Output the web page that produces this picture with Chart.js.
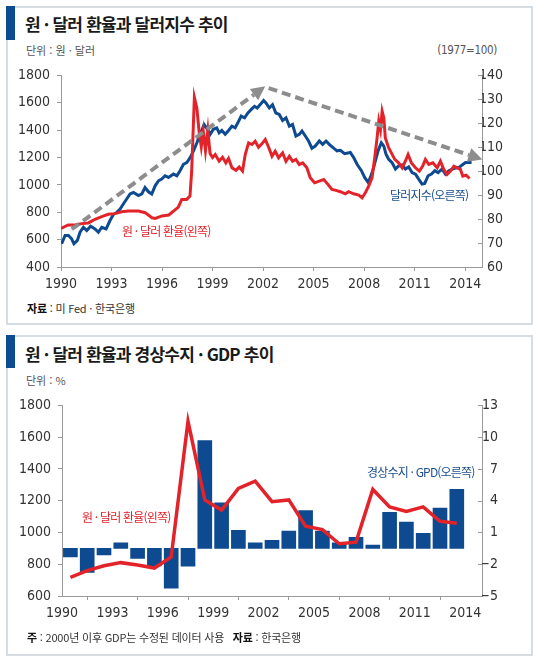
<!DOCTYPE html>
<html lang="ko">
<head>
<meta charset="utf-8">
<script src="https://cdn.jsdelivr.net/npm/chart.js@4.4.1/dist/chart.umd.min.js"></script>
<style>
  body { margin:0; width:540px; height:662px; background:#fff; position:relative; overflow:hidden;
         font-family:'Noto Sans CJK KR', sans-serif; }
  .panel { position:absolute; left:6px; width:527px; border:2px solid #d5dde3; box-sizing:border-box; background:#fff; }
  .accent { position:absolute; left:6px; width:9px; background:#0d4c93; }
  .title { position:absolute; left:25px; font-size:17px; font-weight:700; color:#1a1a1a; letter-spacing:-0.8px; line-height:20px; white-space:nowrap; }
  .unit { position:absolute; left:26px; font-size:11px; color:#555; line-height:14px; white-space:nowrap; }
  .num { font-family:'Liberation Sans Narrow','DejaVu Sans Condensed',sans-serif; }
  .note { position:absolute; left:27px; font-size:11px; color:#333; line-height:14px; white-space:nowrap; letter-spacing:-0.2px; }
  .note b { font-weight:700; color:#111; }
  .lbl { position:absolute; font-size:12px; line-height:16px; letter-spacing:-0.8px; white-space:nowrap; }
  canvas { position:absolute; left:0; }
</style>
</head>
<body>
<div class="panel" style="top:6px;height:319px"></div>
<div class="accent" style="top:6px;height:34px"></div>
<div class="title" style="top:14px">원 · 달러 환율과 달러지수 추이</div>
<div class="unit" style="top:43px">단위 : 원 · 달러</div>
<div class="unit num" style="top:43px;left:auto;right:43px;font-size:11.5px;letter-spacing:-0.3px">(1977=100)</div>
<div style="position:absolute;left:0;top:60px;width:540px;height:240px"><canvas id="rateChart"></canvas></div>
<div class="lbl" style="left:122px;top:223px;color:#e3232a">원 · 달러 환율(왼쪽)</div>
<div class="lbl" style="left:390px;top:187px;color:#1b4f8f">달러지수(오른쪽)</div>
<div class="note" style="top:301px"><b>자료</b> : 미 Fed · 한국은행</div>

<div class="panel" style="top:335px;height:321px"></div>
<div class="accent" style="top:335px;height:33px"></div>
<div class="title" style="top:344px">원 · 달러 환율과 경상수지 · GDP 추이</div>
<div class="unit" style="top:373px">단위 : %</div>
<div style="position:absolute;left:0;top:390px;width:540px;height:240px"><canvas id="balanceChart"></canvas></div>
<div class="lbl" style="left:82px;top:509px;color:#e3232a">원 · 달러 환율(왼쪽)</div>
<div class="lbl" style="left:367px;top:464px;color:#1b4f8f">경상수지 · GPD(오른쪽)</div>
<div class="note" style="top:630px"><b>주</b> : 2000년 이후 GDP는 수정된 데이터 사용 &nbsp;&nbsp;<b>자료</b> : 한국은행</div>

<script>
// 공통 x축 눈금
const yearTicks = [1990, 1993, 1996, 1999, 2002, 2005, 2008, 2011, 2014];

// 위 차트: 원/달러 환율 (월별 근사)
const krwTimes = [1990.0, 1990.43, 1990.83, 1991.23, 1991.63, 1992.02, 1992.42, 1992.81, 1993.2, 1993.6,
  1994.0, 1994.6, 1995.0, 1995.4, 1995.6, 1995.99, 1996.4, 1996.68, 1996.97, 1997.17,
  1997.46, 1997.66, 1997.76, 1997.92, 1998.07, 1998.2, 1998.33, 1998.45, 1998.58, 1998.72,
  1998.85, 1999.0, 1999.16, 1999.39, 1999.59, 1999.79, 1999.95, 2000.15, 2000.39, 2000.58,
  2000.78, 2000.94, 2001.14, 2001.34, 2001.53, 2001.73, 2001.93, 2002.13, 2002.33, 2002.53,
  2002.72, 2002.92, 2003.16, 2003.36, 2003.56, 2003.75, 2003.95, 2004.15, 2004.35, 2004.6,
  2004.8, 2005.06, 2005.34, 2005.6, 2005.85, 2006.09, 2006.33, 2006.59, 2006.88, 2007.08,
  2007.38, 2007.68, 2007.88, 2008.07, 2008.27, 2008.47, 2008.63, 2008.77, 2008.87, 2008.97,
  2009.07, 2009.17, 2009.26, 2009.46, 2009.62, 2009.82, 2010.05, 2010.26, 2010.45, 2010.61,
  2010.81, 2011.05, 2011.28, 2011.48, 2011.64, 2011.84, 2012.08, 2012.34, 2012.53, 2012.73,
  2012.93, 2013.13, 2013.33, 2013.53, 2013.72, 2013.86, 2014.06, 2014.26];
const krwRate = [682, 707, 707, 717, 722, 749, 768, 785, 790, 804,
  809, 809, 797, 760, 755, 773, 780, 809, 838, 894,
  894, 918, 1100, 1640, 1560, 1390, 1280, 1390, 1250, 1400,
  1230, 1200, 1222, 1173, 1202, 1161, 1193, 1125, 1106, 1130,
  1101, 1222, 1307, 1295, 1319, 1275, 1300, 1332, 1275, 1210,
  1246, 1198, 1234, 1173, 1210, 1173, 1186, 1149, 1161, 1125,
  1052, 1015, 1028, 1040, 1004, 967, 960, 950, 935, 950,
  935, 926, 906, 942, 991, 1052, 1198, 1343, 1465, 1404,
  1538, 1489, 1343, 1270, 1234, 1186, 1161, 1125, 1173, 1222,
  1161, 1125, 1101, 1137, 1186, 1149, 1161, 1125, 1173, 1113,
  1077, 1101, 1137, 1125, 1113, 1064, 1071, 1047];

// 위 차트: 달러지수 (1977=100)
const dxyTimes = [1990.04, 1990.24, 1990.44, 1990.63, 1990.77, 1990.97, 1991.13, 1991.33, 1991.53, 1991.76,
  1992.02, 1992.22, 1992.42, 1992.68, 1992.91, 1993.11, 1993.31, 1993.51, 1993.7, 1993.9,
  1994.1, 1994.3, 1994.6, 1994.8, 1994.99, 1995.19, 1995.39, 1995.59, 1995.79, 1995.98,
  1996.18, 1996.38, 1996.68, 1996.88, 1997.07, 1997.27, 1997.47, 1997.67, 1997.87, 1998.07,
  1998.26, 1998.5, 1998.7, 1998.86, 1999.05, 1999.25, 1999.39, 1999.55, 1999.75, 1999.95,
  2000.15, 2000.34, 2000.5, 2000.7, 2000.9, 2001.1, 2001.3, 2001.49, 2001.65, 2001.83,
  2002.03, 2002.17, 2002.37, 2002.56, 2002.76, 2002.96, 2003.16, 2003.36, 2003.56, 2003.75,
  2003.95, 2004.15, 2004.31, 2004.51, 2004.7, 2004.9, 2005.1, 2005.34, 2005.54, 2005.74,
  2005.93, 2006.19, 2006.39, 2006.59, 2006.84, 2007.18, 2007.38, 2007.58, 2007.84, 2008.03,
  2008.24, 2008.37, 2008.51, 2008.67, 2008.83, 2009.02, 2009.17, 2009.3, 2009.46, 2009.66,
  2009.86, 2010.05, 2010.26, 2010.45, 2010.65, 2010.85, 2011.05, 2011.24, 2011.44, 2011.6,
  2011.8, 2012.0, 2012.2, 2012.39, 2012.63, 2012.83, 2013.03, 2013.23, 2013.42, 2013.62,
  2013.82, 2014.02, 2014.22, 2014.38];
const dxyIndex = [69.7, 73.2, 73.2, 71.8, 69.7, 71.1, 74.5, 76.6, 75.2, 77.0,
  75.9, 74.5, 76.6, 75.9, 79.4, 81.9, 82.8, 84.2, 86.3, 88.4,
  90.5, 91.1, 89.8, 90.5, 93.2, 91.4, 90.5, 93.9, 96.0, 96.7,
  98.1, 97.4, 98.8, 98.1, 100.2, 102.9, 103.6, 105.7, 108.5, 111.9,
  115.4, 119.5, 117.5, 115.4, 117.5, 118.1, 116.0, 117.0, 115.4, 117.0,
  118.8, 118.1, 120.2, 123.0, 122.3, 124.3, 125.8, 127.1, 126.4, 127.8,
  129.5, 128.5, 126.4, 127.8, 124.3, 123.7, 121.2, 122.3, 118.8, 119.5,
  114.7, 115.4, 116.8, 114.7, 112.6, 109.6, 110.5, 112.6, 111.2, 112.6,
  111.2, 109.6, 108.5, 108.7, 107.3, 107.8, 105.7, 102.9, 100.2, 97.4,
  95.3, 97.4, 100.2, 104.3, 108.5, 111.9, 110.5, 107.1, 105.0, 103.6,
  100.9, 102.2, 102.6, 100.9, 101.8, 99.4, 98.8, 96.7, 94.6, 94.9,
  98.1, 98.8, 100.2, 99.4, 100.9, 98.8, 100.2, 100.9, 101.3, 101.5,
  102.6, 103.6, 103.6, 103.6];

// 추세 화살표 (연도, 원/달러 축 값)
const trendStart = [[1990.64, 676], [2002.33, 1707]];
const trendEnd = [[2002.13, 1720], [2015.02, 1186]];

// 아래 차트: 연말 환율, 경상수지/GDP
const balanceYears = [1990, 1991, 1992, 1993, 1994, 1995, 1996, 1997, 1998, 1999, 2000, 2001,
  2002, 2003, 2004, 2005, 2006, 2007, 2008, 2009, 2010, 2011, 2012, 2013];
const yearEndRate = [718, 760, 790, 810, 795, 776, 846, 1700, 1205, 1141, 1278, 1323,
  1194, 1205, 1039, 1018, 929, 939, 1271, 1161, 1132, 1161, 1070, 1058];
const currentAccount = [-1.31, -2.77, -1.12, 0.03, -1.46, -2.15, -4.26, -2.18, 9.67, 3.8, 1.21, 0.03,
  0.25, 1.12, 3.07, 1.12, 0.03, 0.53, -0.2, 2.89, 1.99, 0.93, 3.3, 5.07];

const RED = '#e3232a';
const BLUE = '#0d4a8f';
const AXIS = '#9a9a9a';
const numFont = { family: "'Liberation Sans Narrow','DejaVu Sans Condensed',sans-serif", size: 14 };

const innerTicks = {
  id: 'innerTicks',
  afterDraw(chart) {
    const s = chart.scales.y2;
    const ctx = chart.ctx;
    ctx.save();
    ctx.strokeStyle = AXIS;
    ctx.lineWidth = 1;
    s.ticks.forEach(t => {
      const y = Math.round(s.getPixelForValue(t.value)) + 0.5;
      ctx.beginPath();
      ctx.moveTo(s.left - 4, y);
      ctx.lineTo(s.left, y);
      ctx.stroke();
    });
    ctx.restore();
  }
};

const trendArrows = {
  id: 'trendArrows',
  afterDatasetsDraw(chart) {
    const { x, y } = chart.scales;
    const ctx = chart.ctx;
    ctx.save();
    ctx.strokeStyle = '#8d8d8d';
    ctx.fillStyle = '#8d8d8d';
    trendStart.forEach((s, i) => {
      const x0 = x.getPixelForValue(s[0]), y0 = y.getPixelForValue(s[1]);
      const x1 = x.getPixelForValue(trendEnd[i][0]), y1 = y.getPixelForValue(trendEnd[i][1]);
      const a = Math.atan2(y1 - y0, x1 - x0);
      const len = 14, half = 7;
      const bx = x1 - len * Math.cos(a), by = y1 - len * Math.sin(a);
      ctx.lineWidth = 4;
      ctx.setLineDash([9, 5]);
      ctx.beginPath();
      ctx.moveTo(x0, y0);
      ctx.lineTo(bx, by);
      ctx.stroke();
      ctx.setLineDash([]);
      ctx.beginPath();
      ctx.moveTo(x1, y1);
      ctx.lineTo(bx + half * Math.sin(a), by - half * Math.cos(a));
      ctx.lineTo(bx - half * Math.sin(a), by + half * Math.cos(a));
      ctx.closePath();
      ctx.fill();
    });
    ctx.restore();
  }
};

function xAxis(h) {
  return {
    type: 'linear', min: 1990, max: 2015,
    afterBuildTicks: s => { s.ticks = yearTicks.map(v => ({ value: v })); },
    afterFit: s => { s.height = h; },
    grid: { drawOnChartArea: false, tickLength: 4, color: AXIS },
    border: { color: AXIS },
    ticks: { padding: 5, color: '#333', font: numFont, maxRotation: 0, autoSkip: false, callback: v => String(v) }
  };
}

new Chart(document.getElementById('rateChart'), {
  type: 'line',
  data: {
    datasets: [
      {
        label: '원 · 달러 환율(왼쪽)',
        data: krwTimes.map((t, i) => ({ x: t, y: krwRate[i] })),
        borderColor: RED, borderWidth: 3, pointRadius: 0, yAxisID: 'y'
      },
      {
        label: '달러지수(오른쪽)',
        data: dxyTimes.map((t, i) => ({ x: t, y: dxyIndex[i] })),
        borderColor: BLUE, borderWidth: 3, pointRadius: 0, yAxisID: 'y2'
      }
    ]
  },
  options: {
    responsive: true, maintainAspectRatio: false, animation: false,
    layout: { padding: { top: 14, right: 37, left: 0, bottom: 0 } },
    plugins: { legend: { display: false }, tooltip: { enabled: false } },
    scales: {
      x: xAxis(33),
      y: {
        position: 'left', min: 400, max: 1800,
        afterFit: s => { s.width = 61; },
        grid: { drawOnChartArea: false, tickLength: 4, color: AXIS },
        border: { color: AXIS },
        ticks: { stepSize: 200, padding: 7, color: '#333', font: numFont, callback: v => String(v) }
      },
      y2: {
        position: 'right', min: 60, max: 140,
        afterFit: s => { s.width = 21; },
        grid: { drawOnChartArea: false, drawTicks: false, color: AXIS },
        border: { color: AXIS },
        ticks: { stepSize: 10, crossAlign: 'far', color: '#333', font: numFont, callback: v => String(v) }
      }
    }
  },
  plugins: [innerTicks, trendArrows]
});

new Chart(document.getElementById('balanceChart'), {
  type: 'line',
  data: {
    datasets: [
      {
        type: 'line',
        label: '원 · 달러 환율(왼쪽)',
        data: balanceYears.map((yr, i) => ({ x: yr + 0.5, y: yearEndRate[i] })),
        borderColor: RED, borderWidth: 3.5, pointRadius: 0, yAxisID: 'y'
      },
      {
        type: 'bar',
        label: '경상수지 · GPD(오른쪽)',
        data: balanceYears.map((yr, i) => ({ x: yr + 0.5, y: currentAccount[i] })),
        backgroundColor: BLUE, barThickness: 14, base: -0.5, yAxisID: 'y2'
      }
    ]
  },
  options: {
    responsive: true, maintainAspectRatio: false, animation: false,
    layout: { padding: { top: 13, right: 42, left: 0, bottom: 0 } },
    plugins: { legend: { display: false }, tooltip: { enabled: false } },
    scales: {
      x: { ...xAxis(34), offset: false },
      y: {
        position: 'left', min: 600, max: 1800,
        afterFit: s => { s.width = 62; },
        grid: { drawOnChartArea: false, tickLength: 4, color: AXIS },
        border: { color: AXIS },
        ticks: { stepSize: 200, padding: 7, color: '#333', font: numFont, callback: v => String(v) }
      },
      y2: {
        position: 'right', min: -5, max: 13,
        afterFit: s => { s.width = 16; },
        grid: { drawOnChartArea: false, drawTicks: false, color: AXIS },
        border: { color: AXIS },
        ticks: { stepSize: 3, crossAlign: 'far', color: '#333', font: numFont,
                 callback: v => (v < 0 ? '\u2212' + Math.abs(v) : String(v)) }
      }
    }
  },
  plugins: [innerTicks]
});
</script>
</body>
</html>
